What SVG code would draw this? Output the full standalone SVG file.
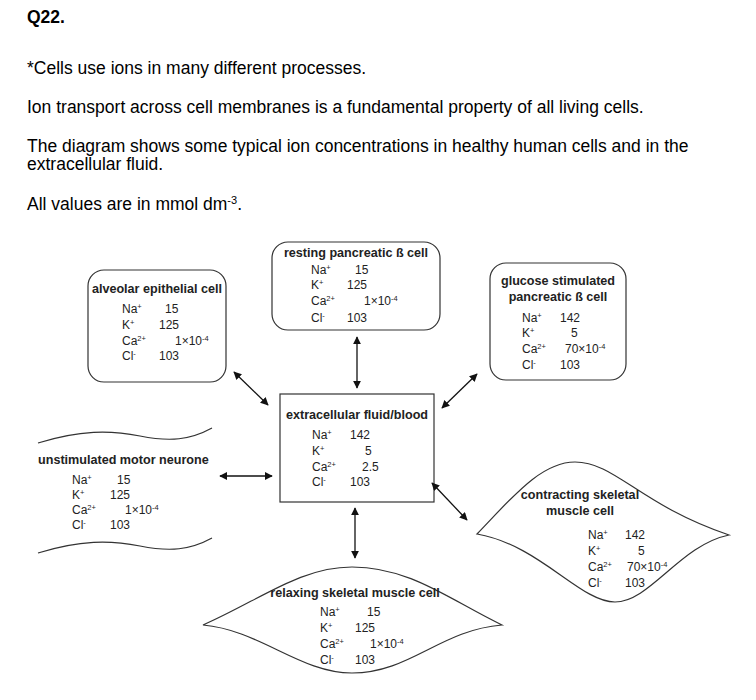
<svg xmlns="http://www.w3.org/2000/svg" width="756" height="700" viewBox="0 0 756 700">
<style>
.h{font-family:"Liberation Sans",Arial,sans-serif;font-size:17.5px;fill:#000}
.t{font-family:"Liberation Sans",Arial,sans-serif;font-size:12.6px;font-weight:bold;fill:#222}
.v{font-family:"Liberation Sans",Arial,sans-serif;font-size:12px;fill:#222}
.s{font-size:7.5px}
.box{fill:#fff;stroke:#333;stroke-width:1.2}
.ln{fill:none;stroke:#333;stroke-width:1.2}
.c{stroke:#111;stroke-width:1.3;fill:none;marker-start:url(#a);marker-end:url(#a)}
</style>
<defs>
<marker id="a" viewBox="0 0 10 10" refX="9" refY="5" markerWidth="8" markerHeight="8" orient="auto-start-reverse" markerUnits="userSpaceOnUse"><path d="M0,0L10,5L0,10z" fill="#111"/></marker>
</defs>
<text class="h" x="27" y="23" font-weight="bold">Q22.</text>
<text class="h" x="27" y="74">*Cells use ions in many different processes.</text>
<text class="h" x="27" y="113">Ion transport across cell membranes is a fundamental property of all living cells.</text>
<text class="h" x="27" y="152">The diagram shows some typical ion concentrations in healthy human cells and in the</text>
<text class="h" x="27" y="170">extracellular fluid.</text>
<text class="h" x="27" y="210">All values are in mmol dm<tspan font-size="11" dy="-6">-3</tspan><tspan dy="6">.</tspan></text>

<g id="resting">
<rect class="box" x="272" y="242" width="168" height="88" rx="16"/>
<text class="t" x="356" y="257" text-anchor="middle">resting pancreatic ß cell</text>
<text class="v" x="311" y="274">Na<tspan class="s" dy="-4">+</tspan></text><text class="v" x="355" y="274">15</text>
<text class="v" x="311" y="289">K<tspan class="s" dy="-4">+</tspan></text><text class="v" x="347" y="289">125</text>
<text class="v" x="311" y="305">Ca<tspan class="s" dy="-4">2+</tspan></text><text class="v" x="364" y="305">1×10<tspan class="s" dy="-4">-4</tspan></text>
<text class="v" x="311" y="322">Cl<tspan class="s" dy="-4">-</tspan></text><text class="v" x="347" y="322">103</text>
</g>
<g id="alveolar">
<rect class="box" x="88" y="270" width="138" height="112" rx="16"/>
<text class="t" x="157" y="293" text-anchor="middle">alveolar epithelial cell</text>
<text class="v" x="122" y="313">Na<tspan class="s" dy="-4">+</tspan></text><text class="v" x="165" y="313">15</text>
<text class="v" x="122" y="329">K<tspan class="s" dy="-4">+</tspan></text><text class="v" x="159" y="329">125</text>
<text class="v" x="122" y="345">Ca<tspan class="s" dy="-4">2+</tspan></text><text class="v" x="175" y="345">1×10<tspan class="s" dy="-4">-4</tspan></text>
<text class="v" x="122" y="360">Cl<tspan class="s" dy="-4">-</tspan></text><text class="v" x="159" y="360">103</text>
</g>
<g id="glucose">
<rect class="box" x="490" y="263" width="136" height="117" rx="16"/>
<text class="t" x="558" y="285" text-anchor="middle">glucose stimulated</text>
<text class="t" x="558" y="301" text-anchor="middle">pancreatic ß cell</text>
<text class="v" x="522" y="322">Na<tspan class="s" dy="-4">+</tspan></text><text class="v" x="560" y="322">142</text>
<text class="v" x="522" y="337">K<tspan class="s" dy="-4">+</tspan></text><text class="v" x="571" y="337">5</text>
<text class="v" x="522" y="353">Ca<tspan class="s" dy="-4">2+</tspan></text><text class="v" x="565" y="353">70×10<tspan class="s" dy="-4">-4</tspan></text>
<text class="v" x="522" y="369">Cl<tspan class="s" dy="-4">-</tspan></text><text class="v" x="560" y="369">103</text>
</g>
<g id="extracellular">
<rect class="box" x="280" y="394" width="154" height="108"/>
<text class="t" x="357" y="419" text-anchor="middle">extracellular fluid/blood</text>
<text class="v" x="312" y="439">Na<tspan class="s" dy="-4">+</tspan></text><text class="v" x="350" y="439">142</text>
<text class="v" x="312" y="455">K<tspan class="s" dy="-4">+</tspan></text><text class="v" x="365" y="455">5</text>
<text class="v" x="312" y="471">Ca<tspan class="s" dy="-4">2+</tspan></text><text class="v" x="362" y="471">2.5</text>
<text class="v" x="312" y="486">Cl<tspan class="s" dy="-4">-</tspan></text><text class="v" x="350" y="486">103</text>
</g>
<g id="neurone">
<path class="ln" d="M38,443 C80,430 110,430 140,436 C170,442 190,440 212,428"/>
<path class="ln" d="M38,553 C80,540 110,540 140,546 C170,552 190,550 212,538"/>
<text class="t" x="38" y="464">unstimulated motor neurone</text>
<text class="v" x="72" y="484">Na<tspan class="s" dy="-4">+</tspan></text><text class="v" x="117" y="484">15</text>
<text class="v" x="72" y="499">K<tspan class="s" dy="-4">+</tspan></text><text class="v" x="110" y="499">125</text>
<text class="v" x="72" y="514">Ca<tspan class="s" dy="-4">2+</tspan></text><text class="v" x="125" y="514">1×10<tspan class="s" dy="-4">-4</tspan></text>
<text class="v" x="72" y="529">Cl<tspan class="s" dy="-4">-</tspan></text><text class="v" x="110" y="529">103</text>
</g>
<g id="contracting">
<path class="box" d="M477,534 C510,500 540,462 575,462 C615,462 640,505 729,535 C680,545 650,602 615,602 C580,602 540,545 477,534z"/>
<text class="t" x="580" y="499" text-anchor="middle">contracting skeletal</text>
<text class="t" x="580" y="515" text-anchor="middle">muscle cell</text>
<text class="v" x="588" y="539">Na<tspan class="s" dy="-4">+</tspan></text><text class="v" x="625" y="539">142</text>
<text class="v" x="588" y="555">K<tspan class="s" dy="-4">+</tspan></text><text class="v" x="638" y="555">5</text>
<text class="v" x="588" y="571">Ca<tspan class="s" dy="-4">2+</tspan></text><text class="v" x="627" y="571">70×10<tspan class="s" dy="-4">-4</tspan></text>
<text class="v" x="588" y="587">Cl<tspan class="s" dy="-4">-</tspan></text><text class="v" x="625" y="587">103</text>
</g>
<g id="relaxing">
<path class="box" d="M203,625 C260,600 300,567 352,567 C410,567 450,600 502,625 C440,630 410,673 352,673 C300,673 260,630 203,625z"/>
<text class="t" x="355" y="597" text-anchor="middle">relaxing skeletal muscle cell</text>
<text class="v" x="320" y="616">Na<tspan class="s" dy="-4">+</tspan></text><text class="v" x="367" y="616">15</text>
<text class="v" x="320" y="632">K<tspan class="s" dy="-4">+</tspan></text><text class="v" x="355" y="632">125</text>
<text class="v" x="320" y="648">Ca<tspan class="s" dy="-4">2+</tspan></text><text class="v" x="370" y="648">1×10<tspan class="s" dy="-4">-4</tspan></text>
<text class="v" x="320" y="664">Cl<tspan class="s" dy="-4">-</tspan></text><text class="v" x="355" y="664">103</text>
</g>
<g id="connectors">
<line class="c" x1="357" y1="337" x2="357" y2="388"/>
<line class="c" x1="355" y1="508" x2="355" y2="558"/>
<line class="c" x1="220" y1="476" x2="272" y2="476"/>
<line class="c" x1="234" y1="372" x2="268" y2="405"/>
<line class="c" x1="442" y1="408" x2="477" y2="374"/>
<line class="c" x1="432" y1="483" x2="467" y2="520"/>
</g>
</svg>
